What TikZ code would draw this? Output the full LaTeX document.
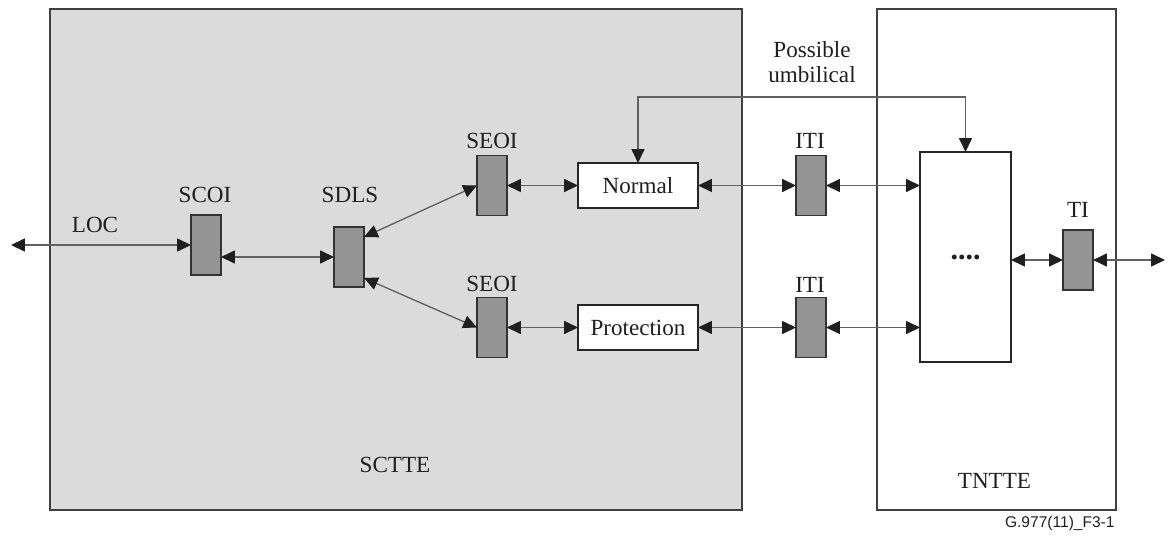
\documentclass[tikz,border=0pt]{standalone}
\usepackage{fontspec}
\setmainfont{Liberation Serif}
\newfontfamily\idfont{Liberation Sans}
\usetikzlibrary{arrows.meta}

\begin{document}
\begin{tikzpicture}[x=0.45pt,y=-0.45pt,
		font=\fontsize{10.4}{11.25}\selectfont, text=black!88,
		>={Triangle[length=6.2pt,width=5.8pt,color=black!88]},
		frame/.style={draw=black!75, line width=0.7pt},
		iface/.style={draw=black!80, fill=black!42, line width=0.7pt, minimum width=13.5pt, minimum height=27pt, inner sep=0pt, outer sep=0pt},
		func/.style={draw=black!85, fill=white, line width=0.7pt, minimum width=54pt, minimum height=20.25pt, inner sep=0pt, outer sep=0pt},
		bigbox/.style={func, minimum width=40.95pt, minimum height=94.5pt},
		conn/.style={draw=black!62, line width=0.6pt, <->}
	]
		\useasboundingbox (0,0) rectangle (1169,540);
		% equipment frames
		\draw[frame, fill=black!14] (50,9) rectangle (742,510);
		\draw[frame, fill=white] (877,9) rectangle (1116,510);
		\draw
			(395,464.5) node (sctte) {SCTTE}
			(994.5,481) node (tntte) {TNTTE}
			(812,62) node [align=center] (umbtext) {Possible\\umbilical}
			(1115,527) node [anchor=base east, inner sep=0pt, font=\idfont\fontsize{7}{8}\selectfont] (figid) {G.977(11)\_F3-1}
			;
		% interfaces and functions
		\draw
			(206,245) node [iface] (scoi) {}
			(349,257) node [iface] (sdls) {}
			(492,185.5) node [iface] (seoiA) {}
			(492,327.5) node [iface] (seoiB) {}
			(638,185.5) node [func] (normal) {Normal}
			(638,327.5) node [func] (prot) {Protection}
			(811,185.5) node [iface] (itiA) {}
			(811,327.5) node [iface] (itiB) {}
			(965.5,257) node [bigbox, font=\fontsize{13.5}{14}\selectfont\bfseries] (dots) {....}
			(1078,260) node [iface] (ti) {}
			;
		\draw
			(95,225) node (loclabel) {LOC}
			(205,195) node (scoilabel) {SCOI}
			(350,195) node (sdlslabel) {SDLS}
			(492,140.5) node (seoiAlabel) {SEOI}
			(492,284) node (seoiBlabel) {SEOI}
			(810,140.5) node (itiAlabel) {ITI}
			(810,285) node (itiBlabel) {ITI}
			(1078,210) node (tilabel) {TI}
			;
		\coordinate (loc) at (11,245);
		\coordinate (tiout) at (1165,260);
		\coordinate (umb) at (800,97);
		% connectors
		\path
			(loc) 						edge [conn] (scoi.west)
			(scoi.east |- sdls.west) 	edge [conn] (sdls.west)
			([yshift=9pt]sdls.east) 	edge [conn] (seoiA.west)
			([yshift=-9.45pt]sdls.east) edge [conn] (seoiB.west)
			(seoiA.east) 				edge [conn] (normal.west)
			(seoiB.east) 				edge [conn] (prot.west)
			(normal.east) 				edge [conn] (itiA.west)
			(prot.east) 				edge [conn] (itiB.west)
			(itiA.east) 				edge [conn] (itiA.east -| dots.west)
			(itiB.east) 				edge [conn] (itiB.east -| dots.west)
			(dots.east |- ti.west) 		edge [conn] (ti.west)
			(ti.east) 					edge [conn] (tiout)
			;
		\draw[conn] (normal.north) |- (umb) -| (dots.north);
	\end{tikzpicture}
\end{document}
